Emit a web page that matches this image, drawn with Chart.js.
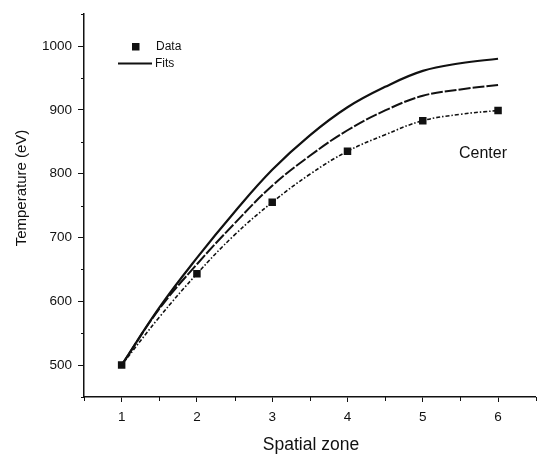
<!DOCTYPE html>
<html lang="en">
<head>
<meta charset="UTF-8">
<title>Center temperature by spatial zone</title>
<script src="https://cdn.jsdelivr.net/npm/chart.js@4"></script>
<style>
  html, body { margin: 0; padding: 0; background: #fff; }
</style>
</head>
<body>
<canvas id="chart" width="541" height="459"></canvas>
<script>
// measured points
const zones = [1, 2, 3, 4, 5, 6];
const temps = [500, 643, 755, 835, 883, 899];

// fitted curves, sampled every half zone
const fitZones  = [1, 1.5, 2, 2.5, 3, 3.5, 4, 4.5, 5, 5.5, 6];
const fitUpper  = [500, 590, 668, 740, 806, 860, 904, 936, 961, 973, 980];
const fitMiddle = [500, 588, 658, 722, 781, 828, 868, 899, 922, 932, 939];
const fitLower  = [500, 575, 643, 704, 755, 799, 835, 861, 883, 893, 899];

const xMajorTicks = [1, 2, 3, 4, 5, 6];
const xMinorTicks = [0.5, 1.5, 2.5, 3.5, 4.5, 5.5, 6.5];
const yMajorTicks = [500, 600, 700, 800, 900, 1000];
const yMinorTicks = [450, 550, 650, 750, 850, 950, 1050];

const ink = '#111';
const family = '"Liberation Sans", Arial, sans-serif';

const pts = (xs, ys) => xs.map((x, i) => ({ x, y: ys[i] }));

// minor ticks, axis titles, legend and the panel note
const decor = {
  id: 'decor',
  afterDraw(chart) {
    const { ctx, chartArea: a, scales: { x, y } } = chart;
    ctx.save();
    ctx.strokeStyle = ink;
    ctx.lineWidth = 1;
    ctx.beginPath();
    xMinorTicks.forEach(v => {
      const px = Math.round(x.getPixelForValue(v)) + 0.5;
      ctx.moveTo(px, a.bottom);
      ctx.lineTo(px, a.bottom + 4);
    });
    yMinorTicks.forEach(v => {
      const py = Math.round(y.getPixelForValue(v)) + 0.5;
      ctx.moveTo(a.left - 3, py);
      ctx.lineTo(a.left, py);
    });
    ctx.stroke();

    ctx.fillStyle = ink;
    ctx.textBaseline = 'middle';
    ctx.textAlign = 'center';
    ctx.font = '17.5px ' + family;
    ctx.fillText('Spatial zone', 311, 445);

    ctx.save();
    ctx.translate(22, 188);
    ctx.rotate(-Math.PI / 2);
    ctx.font = '15px ' + family;
    ctx.fillText('Temperature (eV)', 0, 0);
    ctx.restore();

    ctx.font = '16px ' + family;
    ctx.fillText('Center', 483, 154);

    // legend
    ctx.fillRect(132, 43, 7.5, 7.5);
    ctx.lineWidth = 2;
    ctx.beginPath();
    ctx.moveTo(118, 63.5);
    ctx.lineTo(152, 63.5);
    ctx.stroke();
    ctx.textAlign = 'left';
    ctx.font = '12px ' + family;
    ctx.fillText('Data', 156, 47);
    ctx.fillText('Fits', 155, 64);
    ctx.restore();
  }
};

new Chart(document.getElementById('chart'), {
  type: 'line',
  data: {
    datasets: [
      {
        data: pts(fitZones, fitUpper),
        borderColor: ink, borderWidth: 2.2,
        pointRadius: 0, tension: 0.4
      },
      {
        data: pts(fitZones, fitMiddle),
        borderColor: ink, borderWidth: 2,
        borderDash: [12, 2],
        pointRadius: 0, tension: 0.4
      },
      {
        data: pts(fitZones, fitLower),
        borderColor: ink, borderWidth: 1.6,
        borderDash: [4, 2, 1.5, 2],
        pointRadius: 0, tension: 0.4
      },
      {
        data: pts(zones, temps),
        showLine: false,
        pointStyle: 'rect', pointRadius: 5.3,
        pointBackgroundColor: ink, pointBorderColor: ink, pointBorderWidth: 0
      }
    ]
  },
  options: {
    responsive: false,
    animation: false,
    layout: { padding: { top: 5, right: 4, left: 0, bottom: 0 } },
    plugins: { legend: { display: false }, tooltip: { enabled: false } },
    scales: {
      x: {
        type: 'linear', min: 0.5, max: 6.5,
        afterBuildTicks: s => { s.ticks = xMajorTicks.map(value => ({ value })); },
        afterFit: s => { s.height = 62; },
        border: { color: ink, width: 1.5 },
        grid: { drawOnChartArea: false, tickLength: 5, tickColor: ink, tickWidth: 1 },
        ticks: { color: ink, padding: 7, font: { family, size: 13.5 }, callback: v => String(v) }
      },
      y: {
        min: 450, max: 1050,
        afterBuildTicks: s => { s.ticks = yMajorTicks.map(value => ({ value })); },
        afterFit: s => { s.width = 84; },
        border: { color: ink, width: 1.5 },
        grid: { drawOnChartArea: false, tickLength: 6, tickColor: ink, tickWidth: 1 },
        ticks: { color: ink, padding: 6, font: { family, size: 13.5 }, callback: v => String(v) }
      }
    }
  },
  plugins: [decor]
});
</script>
</body>
</html>
